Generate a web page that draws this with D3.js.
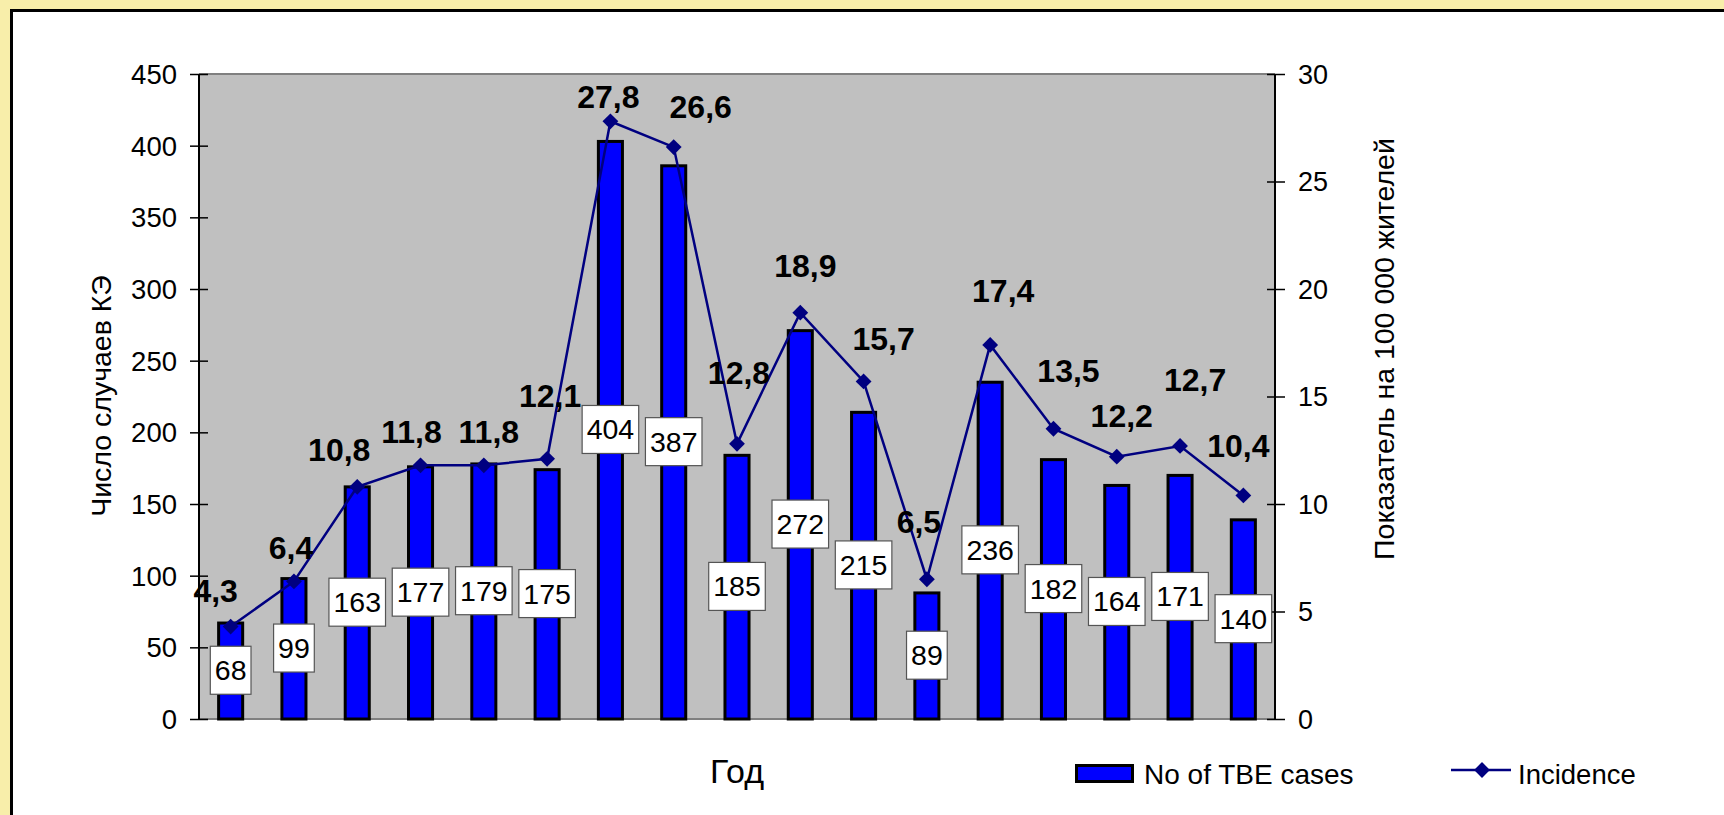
<!DOCTYPE html>
<html><head><meta charset="utf-8">
<script src="https://cdn.jsdelivr.net/npm/d3@7"></script>
<style>body{margin:0;background:#F8EEAA;overflow:hidden} svg{display:block}</style>
</head><body><svg id="c" width="1724" height="815"></svg>
<script>
// ---- data ----
const categories = ["1","2","3","4","5","6","7","8","9","10","11","12","13","14","15","16","17"];
const cases = [68, 99, 163, 177, 179, 175, 404, 387, 185, 272, 215, 89, 236, 182, 164, 171, 140];
const incidence = [4.3, 6.4, 10.8, 11.8, 11.8, 12.1, 27.8, 26.6, 12.8, 18.9, 15.7, 6.5, 17.4, 13.5, 12.2, 12.7, 10.4];
const leftTicks = [0, 50, 100, 150, 200, 250, 300, 350, 400, 450];
const rightTicks = [0, 5, 10, 15, 20, 25, 30];
const seriesNames = ["No of TBE cases", "Incidence"];
const xTitle = "Год";
const yLeftTitle = "Число случаев КЭ";
const yRightTitle = "Показатель на 100 000 жителей";
// manual label placement (layout only, px relative to marker)
const labelNudge = [[-15,-36],[-3,-34],[-18,-37],[-9,-34],[5,-34],[3,-63],[-2,-25],[27,-40],[2,-71],[5,-47],[20,-43],[-8,-57],[13,-54],[15,-58],[5,-41],[15,-66],[-5,-50]];

const FONT = "'Liberation Sans', Arial, sans-serif";
const fmt = v => d3.format(".1f")(v).replace(".", ",");

const svg = d3.select("#c");
// panel
svg.append("rect").attr("x", 11.5).attr("y", 10.5).attr("width", 1800).attr("height", 900)
  .attr("fill", "#ffffff").attr("stroke", "#000").attr("stroke-width", 3);

const L = 199, R = 1275, T = 74, B = 719;
const x = d3.scaleBand().domain(categories).range([L, R]).padding(0);
const y1 = d3.scaleLinear().domain([0, 450]).range([B, T]);
const y2 = d3.scaleLinear().domain([0, 30]).range([B, T]);

svg.append("rect").attr("x", L).attr("y", T).attr("width", R - L).attr("height", B - T).attr("fill", "#C0C0C0");
svg.append("line").attr("x1", L).attr("x2", R).attr("y1", T).attr("y2", T).attr("stroke", "#808080").attr("stroke-width", 2);
svg.append("line").attr("x1", L).attr("x2", R).attr("y1", B).attr("y2", B).attr("stroke", "#808080").attr("stroke-width", 2);

// bars
const bw = x.bandwidth() * 0.38;
svg.append("g").selectAll("rect").data(cases).join("rect")
  .attr("x", (d, i) => x(categories[i]) + x.bandwidth() / 2 - bw / 2)
  .attr("y", d => y1(d) + 1.5)
  .attr("width", bw)
  .attr("height", d => B - y1(d) - 1.5)
  .attr("fill", "#0000FF").attr("stroke", "#000").attr("stroke-width", 3);

// axes
const axL = svg.append("g").attr("transform", `translate(${L},0)`)
  .call(d3.axisLeft(y1).tickValues(leftTicks).tickSizeOuter(0));
axL.select(".domain").remove();
axL.selectAll(".tick line").attr("x1", 9).attr("x2", -9).attr("stroke", "#000").attr("stroke-width", 1.5);
axL.selectAll(".tick text").attr("x", -22).attr("dy", "0.35em").attr("font-size", 27.5).attr("fill", "#000");
svg.append("line").attr("x1", L).attr("x2", L).attr("y1", T).attr("y2", B).attr("stroke", "#000").attr("stroke-width", 2);

const axR = svg.append("g").attr("transform", `translate(${R},0)`)
  .call(d3.axisRight(y2).tickValues(rightTicks).tickSizeOuter(0));
axR.select(".domain").remove();
axR.selectAll(".tick line").attr("x1", -8).attr("x2", 10).attr("stroke", "#000").attr("stroke-width", 1.5);
axR.selectAll(".tick text").attr("x", 23).attr("dy", "0.35em").attr("font-size", 27).attr("fill", "#000");
svg.append("line").attr("x1", R).attr("x2", R).attr("y1", T).attr("y2", B).attr("stroke", "#000").attr("stroke-width", 2);
svg.selectAll(".tick text").attr("font-family", FONT);

// line
const cx = i => x(categories[i]) + x.bandwidth() / 2;
const line = d3.line().x((d, i) => cx(i)).y(d => y2(d));
svg.append("path").datum(incidence).attr("d", line).attr("fill", "none").attr("stroke", "#000080").attr("stroke-width", 2.5);
svg.append("g").selectAll("path").data(incidence).join("path")
  .attr("transform", (d, i) => `translate(${cx(i)},${y2(d)}) rotate(45)`)
  .attr("d", d3.symbol().type(d3.symbolSquare).size(125)).attr("fill", "#000080");

// value boxes (center of bar)
const boxG = svg.append("g");
cases.forEach((v, i) => {
  const g = boxG.append("g").attr("transform", `translate(${cx(i)},${y1(v / 2)})`);
  const t = g.append("text").text(v).attr("text-anchor", "middle").attr("dy", "0.35em")
    .attr("font-size", 28.5).attr("font-family", FONT).attr("fill", "#000");
  const w = t.node().getComputedTextLength() + 9;
  g.insert("rect", "text").attr("x", -w / 2).attr("y", -24).attr("width", w).attr("height", 48)
    .attr("fill", "#fff").attr("stroke", "#555").attr("stroke-width", 1.2);
});

// incidence labels
svg.append("g").selectAll("text").data(incidence).join("text")
  .attr("x", (d, i) => cx(i) + labelNudge[i][0])
  .attr("y", (d, i) => y2(d) + labelNudge[i][1])
  .attr("dy", "0.35em").attr("text-anchor", "middle")
  .attr("font-size", 32).attr("font-weight", "bold").attr("font-family", FONT).attr("fill", "#000")
  .text(d => fmt(d));

// titles
svg.append("text").attr("x", 737).attr("y", 783).attr("text-anchor", "middle")
  .attr("font-size", 34).attr("font-family", FONT).text(xTitle);
svg.append("text").attr("transform", "translate(111,396) rotate(-90)").attr("text-anchor", "middle")
  .attr("font-size", 28.5).attr("font-family", FONT).text(yLeftTitle);
svg.append("text").attr("transform", "translate(1394,349) rotate(-90)").attr("text-anchor", "middle")
  .attr("font-size", 28.5).attr("font-family", FONT).text(yRightTitle);

// legend
svg.append("rect").attr("x", 1076.5).attr("y", 765.5).attr("width", 56).attr("height", 16)
  .attr("fill", "#0000FF").attr("stroke", "#000").attr("stroke-width", 3);
svg.append("text").attr("x", 1144).attr("y", 784).attr("font-size", 28).attr("font-family", FONT).text(seriesNames[0]);
svg.append("line").attr("x1", 1451).attr("x2", 1511).attr("y1", 770).attr("y2", 770).attr("stroke", "#000080").attr("stroke-width", 2.5);
svg.append("path").attr("transform", "translate(1482,770) rotate(45)")
  .attr("d", d3.symbol().type(d3.symbolSquare).size(125)).attr("fill", "#000080");
svg.append("text").attr("x", 1518).attr("y", 784).attr("font-size", 27.5).attr("font-family", FONT).text(seriesNames[1]);
</script></body></html>
